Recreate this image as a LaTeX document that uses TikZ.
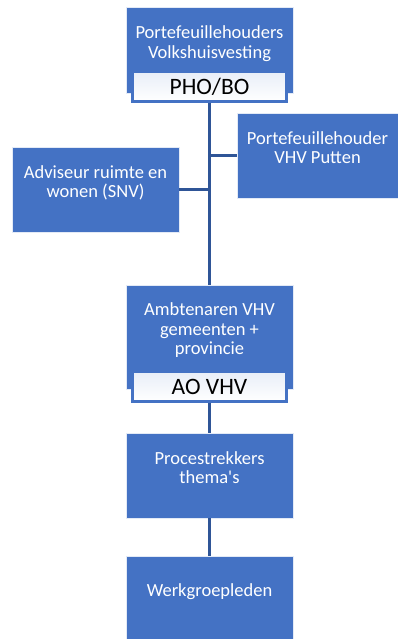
\documentclass[tikz,border=0pt]{standalone}
\usepackage{fontspec}
\setmainfont{Carlito}
\usepackage{tikz}
\usetikzlibrary{positioning}
\definecolor{vhvblue}{HTML}{4472C4}
\definecolor{vhvline}{HTML}{2F5597}
\tikzstyle{unit}=[rectangle, draw=white!85!vhvblue, line width=0.8pt, fill=vhvblue, text=white, align=center,
  minimum width=167pt, minimum height=85pt, text depth=16pt, inner sep=0pt,
  font=\fontsize{18.5}{19.5}\selectfont]
\tikzstyle{tag}=[rectangle, draw=vhvblue, line width=3pt, top color=vhvblue!12, bottom color=white,
  text=black, minimum width=154pt, minimum height=30pt, inner sep=0pt,
  font=\fontsize{23.5}{25}\selectfont]
\tikzstyle{link}=[draw=vhvline, line width=3pt]

\begin{document}
\begin{tikzpicture}[x=1pt, y=-1pt]
        \useasboundingbox (0,0) rectangle (397,639);

        \node[unit, minimum height=86pt] (pho) at (209.5,50) {Portefeuillehouders\\Volkshuisvesting};
        \node[tag] (pholbl) [above=-10pt of pho.south] {PHO/BO};
        \node[unit, minimum width=161pt] (putten) at (317.5,155.5) {Portefeuillehouder\\VHV Putten};
        \node[unit] (snv) at (95.5,189.5) {Adviseur ruimte en\\wonen (SNV)};
        \node[unit, minimum height=104pt] (ao) at (209.5,337) {Ambtenaren VHV\\gemeenten +\\provincie};
        \node[tag] (aolbl) [above=-14pt of ao.south] {AO VHV};
        \node[unit] (proc) at (209.5,475.5) {Procestrekkers\\thema\textquotesingle s};
        \node[unit] (werk) at (209.5,598.5) {Werkgroepleden};

        % lines between the units
        \draw[link] (pholbl.south) -- (ao.north);
        \draw[link] (putten.west) -- (putten.west -| pholbl.south);
        \draw[link] (snv.east) -- (snv.east -| pholbl.south);
        \draw[link] (aolbl.south) -- (proc.north);
        \draw[link] (proc.south) -- (werk.north);
\end{tikzpicture}
\end{document}
